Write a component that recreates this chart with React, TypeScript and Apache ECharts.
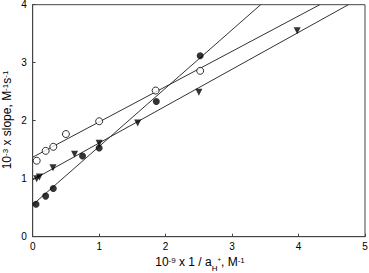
import React, { useEffect, useRef } from "react";
import * as echarts from "echarts";

const openCircles: [number, number][] = [
  [0.06, 1.31], [0.195, 1.48], [0.31, 1.55], [0.5, 1.77], [1.0, 1.99], [1.85, 2.52], [2.52, 2.86],
];
const filledCircles: [number, number][] = [
  [0.05, 0.56], [0.195, 0.7], [0.31, 0.83], [0.75, 1.39], [1.0, 1.53], [1.86, 2.33], [2.52, 3.12],
];
const triangles: [number, number][] = [
  [0.06, 1.0], [0.1, 1.03], [0.305, 1.19], [0.63, 1.42], [1.0, 1.61], [1.58, 1.96], [2.5, 2.49], [3.98, 3.55],
];
const fitOpen: [number, number][] = [[0, 1.37], [4.32, 4]];
const fitFilled: [number, number][] = [[0, 0.55], [3.43, 4]];
const fitTriangle: [number, number][] = [[0, 0.98], [4.75, 4]];

const xTicks = [0, 1, 2, 3, 4, 5];
const yTicks = [0, 1, 2, 3, 4];
const xTitle = "{n|10}{s|-9}{n| x 1 / a}{sub|H}{ss|+}{n|, M}{s|-1}";
const yTitle = "{n|10}{s|-3}{n| x slope, M}{s|-1}{n|s}{s|-1}";

const FONT = "Liberation Sans, Arial, sans-serif";

export default function App() {
  const ref = useRef<HTMLDivElement>(null);
  useEffect(() => {
    if (!ref.current) return;
    const chart = echarts.init(ref.current, null, { renderer: "svg" });
    const lineSeries = (d: [number, number][]) => ({
      type: "line",
      data: d,
      symbol: "none",
      lineStyle: { color: "#333", width: 1 },
      z: 1,
      silent: true,
    });
    const rich = {
      n: { fontSize: 12, fill: "#000", lineHeight: 16, verticalAlign: "top", fontFamily: FONT },
      s: { fontSize: 8, fill: "#000", lineHeight: 6, verticalAlign: "top", fontFamily: FONT },
      sub: { fontSize: 8, fill: "#000", lineHeight: 8, verticalAlign: "bottom", fontFamily: FONT },
      ss: { fontSize: 6, fill: "#000", lineHeight: 14, verticalAlign: "top", fontFamily: FONT },
    };
    chart.setOption({
      animation: false,
      textStyle: { fontFamily: FONT },
      grid: {
        left: 32.7, right: 4, top: 4.7, bottom: 36.3,
        containLabel: false,
        outerBoundsMode: "none",
        show: true, borderColor: "#444", borderWidth: 1, backgroundColor: "transparent",
      },
      xAxis: {
        type: "value", min: 0, max: 5, interval: 1,
        axisLine: { show: true, lineStyle: { color: "#444" } },
        axisTick: { show: true, inside: true, length: 3, lineStyle: { color: "#444" } },
        splitLine: { show: false },
        axisLabel: { color: "#000", fontSize: 10, margin: 5, fontFamily: FONT,
          formatter: (v: number) => (xTicks.includes(v) ? String(v) : "") },
      },
      yAxis: {
        type: "value", min: 0, max: 4, interval: 1,
        axisLine: { show: true, lineStyle: { color: "#444" } },
        axisTick: { show: true, inside: true, length: 3, lineStyle: { color: "#444" } },
        splitLine: { show: false },
        axisLabel: { color: "#000", fontSize: 10, margin: 6, fontFamily: FONT,
          formatter: (v: number) => (yTicks.includes(v) ? String(v) : "") },
      },
      graphic: [
        {
          type: "text", x: 200, y: 264,
          style: { text: xTitle, rich, align: "center", verticalAlign: "middle", fill: "#000", font: "12px " + FONT },
        },
        {
          type: "text", x: 9, y: 120, rotation: Math.PI / 2,
          style: { text: yTitle, rich, align: "center", verticalAlign: "middle", fill: "#000", font: "12px " + FONT },
        },
      ],
      series: [
        lineSeries(fitOpen),
        lineSeries(fitFilled),
        lineSeries(fitTriangle),
        {
          type: "scatter", data: filledCircles, symbol: "circle", symbolSize: 7,
          itemStyle: { color: "#000" }, z: 3,
        },
        {
          type: "scatter", data: triangles, symbol: "triangle", symbolSize: 7, symbolRotate: 180,
          itemStyle: { color: "#000" }, z: 3,
        },
        {
          type: "scatter", data: openCircles, symbol: "circle", symbolSize: 7,
          itemStyle: { color: "#fff", borderColor: "#000", borderWidth: 1 }, z: 3,
        },
      ],
    });
    return () => chart.dispose();
  }, []);
  return <div ref={ref} style={{ width: 369, height: 273, position: "absolute", left: 0, top: 0 }} />;
}
